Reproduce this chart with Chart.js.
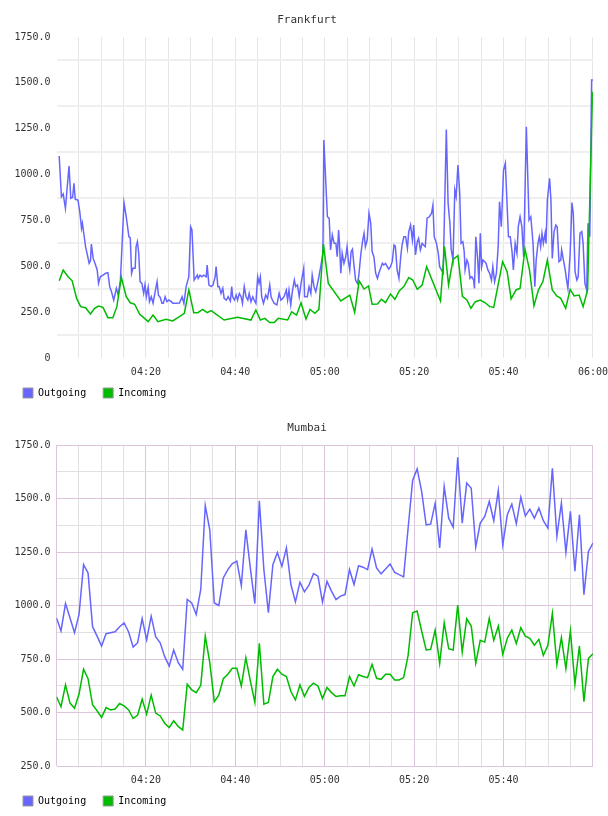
<!DOCTYPE html>
<html>
<head>
<meta charset="utf-8">
<title>Traffic</title>
<script src="https://cdn.jsdelivr.net/npm/chart.js@4.4.1/dist/chart.umd.min.js"></script>
<style>
    html, body { margin: 0; padding: 0; background: #fff; overflow: hidden; }
    canvas { display: block; }
</style>
</head>
<body>
<canvas id="frankfurtChart" width="608" height="408"></canvas>
<canvas id="mumbaiChart" width="608" height="408"></canvas>
<script>
// time axis: minutes after 04:00
const xTickMinutes = [20, 40, 60, 80, 100, 120];
const xTickLabels = ['04:20', '04:40', '05:00', '05:20', '05:40', '06:00'];

// Frankfurt - outgoing (sampled roughly every 20-30s)
const frankfurtOutTimes = [
    0.6, 1.1, 1.5, 2.0, 2.8, 3.2, 3.6, 3.9, 4.2, 4.8, 5.2, 5.6, 5.8, 6.1, 6.5, 6.9, 7.3, 7.6, 7.8, 8.2,
    8.7, 9.1, 9.4, 9.8, 10.4, 11.0, 11.5, 11.9, 12.3, 12.8, 13.4, 13.8, 14.3, 15.1, 15.6, 16.2, 16.5, 16.8, 17.1, 17.6,
    17.8, 18.1, 18.4, 18.7, 19.1, 19.5, 19.8, 20.1, 20.5, 20.8, 21.2, 21.6, 22.0, 22.5, 22.8, 23.2, 23.6, 23.9, 24.3, 24.7,
    25.1, 25.7, 26.0, 26.8, 27.5, 28.1, 28.5, 29.0, 29.6, 30.0, 30.3, 30.8, 31.5, 31.7, 32.1, 32.5, 32.9, 33.5, 33.7, 34.1,
    34.6, 35.0, 35.5, 35.7, 36.1, 36.4, 36.8, 37.2, 37.5, 38.0, 38.4, 38.9, 39.2, 39.4, 39.8, 40.2, 40.5, 40.9, 41.3, 41.6,
    42.0, 42.4, 42.8, 43.1, 43.5, 43.9, 44.2, 44.6, 45.0, 45.3, 45.6, 45.9, 46.3, 46.8, 47.2, 47.7, 48.0, 48.3, 48.7, 49.3,
    49.8, 50.2, 50.6, 50.9, 51.4, 51.7, 52.0, 52.4, 52.8, 53.2, 53.5, 53.9, 54.3, 54.7, 55.3, 55.5, 56.1, 56.5, 56.9, 57.2,
    57.6, 58.0, 58.4, 58.7, 59.1, 59.6, 59.8, 60.6, 61.0, 61.3, 61.7, 62.1, 62.5, 62.8, 63.1, 63.3, 63.6, 63.9, 64.3, 64.7,
    65.0, 65.3, 65.6, 65.9, 66.2, 66.5, 66.9, 67.3, 67.6, 68.1, 68.5, 68.8, 69.1, 69.5, 69.9, 70.3, 70.6, 71.0, 71.4, 71.8,
    72.1, 72.5, 72.9, 73.2, 73.6, 74.0, 74.3, 74.7, 75.1, 75.5, 75.8, 76.2, 76.6, 77.0, 77.3, 77.7, 78.1, 78.5, 78.8, 79.2,
    79.6, 79.9, 80.3, 80.7, 81.0, 81.4, 81.8, 82.1, 82.5, 82.9, 83.4, 83.9, 84.2, 84.5, 85.0, 85.4, 85.7, 86.1, 86.5, 87.2,
    87.6, 88.0, 88.3, 88.7, 89.1, 89.4, 89.8, 90.2, 90.5, 90.9, 91.2, 91.4, 91.8, 92.1, 92.5, 92.9, 93.3, 93.5, 93.8, 94.2,
    94.5, 94.8, 95.1, 95.4, 95.8, 96.1, 96.5, 96.9, 97.3, 97.6, 98.0, 98.4, 98.8, 99.1, 99.5, 100.0, 100.4, 101.1, 101.5, 101.9,
    102.2, 102.6, 103.0, 103.3, 103.7, 104.1, 104.5, 105.1, 105.7, 106.1, 106.6, 107.0, 107.3, 107.7, 108.0, 108.3, 108.6, 108.9, 109.3, 109.5,
    109.8, 110.3, 110.6, 110.9, 111.3, 111.7, 112.0, 112.4, 112.8, 113.0, 113.4, 113.8, 114.1, 114.4, 114.9, 115.3, 115.6, 116.0, 116.4, 116.7,
    117.1, 117.5, 117.8, 118.2, 118.6, 118.9, 119.3, 119.7, 120.0
];
const frankfurtOut = [
    1101, 879, 894, 816, 1047, 870, 875, 952, 865, 861, 798, 707, 734, 680, 607, 562, 516, 530, 621, 543,
    510, 480, 407, 443, 452, 462, 465, 389, 361, 316, 380, 343, 425, 847, 770, 661, 655, 462, 489, 489,
    607, 634, 570, 416, 407, 353, 400, 334, 385, 307, 334, 299, 352, 416, 343, 330, 298, 298, 334, 307,
    316, 307, 298, 298, 300, 334, 298, 389, 443, 716, 698, 425, 452, 434, 452, 443, 452, 443, 507, 398,
    389, 398, 443, 498, 389, 389, 352, 380, 325, 316, 334, 310, 389, 334, 316, 343, 316, 352, 334, 298,
    389, 334, 316, 352, 307, 334, 316, 298, 443, 407, 443, 334, 298, 343, 325, 398, 334, 316, 298, 290,
    353, 316, 325, 334, 370, 316, 370, 290, 370, 425, 389, 398, 334, 407, 489, 334, 334, 389, 352, 452,
    389, 361, 407, 443, 498, 571, 1188, 770, 761, 589, 671, 625, 625, 552, 698, 625, 462, 571, 516, 552,
    607, 525, 480, 580, 593, 516, 425, 407, 443, 571, 643, 680, 607, 643, 789, 734, 580, 552, 462, 434,
    462, 489, 516, 507, 516, 498, 485, 498, 525, 616, 610, 480, 434, 552, 616, 661, 661, 598, 689, 725,
    643, 725, 562, 634, 652, 589, 625, 616, 607, 762, 770, 789, 834, 661, 625, 571, 498, 480, 462, 1245,
    843, 734, 589, 534, 916, 880, 1052, 898, 625, 634, 580, 480, 534, 516, 434, 443, 425, 380, 661, 543,
    407, 680, 498, 534, 525, 516, 480, 461, 425, 498, 416, 461, 607, 852, 716, 1025, 1061, 661, 661, 580,
    480, 625, 570, 716, 770, 716, 552, 1261, 752, 770, 625, 389, 534, 625, 661, 607, 680, 625, 680, 625,
    861, 980, 861, 543, 689, 725, 716, 525, 534, 589, 534, 480, 425, 380, 570, 847, 789, 471, 425, 443,
    680, 689, 625, 407, 371, 734, 661, 1516, 1516
];

// Frankfurt - incoming (about one sample a minute)
const frankfurtInTimes = [
    0.6, 1.5, 2.6, 3.5, 4.5, 5.4, 6.5, 7.6, 8.5, 9.4, 10.4, 11.5, 12.6, 13.5, 14.5, 15.6, 16.5, 17.5, 18.6, 19.5,
    20.5, 21.6, 22.7, 24.5, 26.0, 27.5, 28.6, 29.6, 30.7, 31.6, 32.7, 33.7, 34.6, 37.5, 40.5, 43.5, 44.6, 45.6, 46.6, 47.7,
    48.7, 49.6, 51.7, 52.6, 53.7, 54.7, 55.8, 56.7, 57.8, 58.7, 59.7, 60.8, 63.6, 65.6, 66.7, 67.7, 68.8, 69.8, 70.6, 71.8,
    72.7, 73.6, 74.7, 75.7, 76.7, 77.7, 78.8, 79.7, 80.7, 81.8, 82.8, 85.9, 86.8, 87.7, 88.7, 89.8, 90.8, 91.8, 92.7, 93.7,
    94.8, 95.9, 96.9, 97.8, 99.8, 100.8, 101.7, 102.8, 103.7, 104.8, 105.8, 106.8, 107.8, 108.8, 109.8, 110.9, 111.9, 112.8, 113.9, 114.9,
    115.8, 116.9, 117.8, 118.8, 119.9
];
const frankfurtIn = [
    421, 480, 443, 421, 325, 280, 274, 240, 271, 283, 276, 220, 220, 280, 440, 334, 301, 293, 238, 220,
    198, 234, 198, 211, 202, 225, 244, 371, 247, 247, 265, 247, 258, 207, 222, 207, 262, 207, 216, 193,
    193, 216, 207, 252, 234, 301, 213, 265, 244, 265, 621, 407, 311, 343, 249, 421, 376, 393, 293, 294,
    320, 302, 349, 320, 367, 389, 438, 425, 374, 398, 498, 311, 607, 398, 538, 558, 336, 316, 271, 307,
    316, 301, 280, 276, 525, 471, 322, 371, 380, 593, 480, 285, 371, 416, 534, 371, 338, 325, 271, 374,
    338, 343, 280, 371, 1452
];

// Mumbai - one sample per interval, 04:00 to 06:00
const mumbaiOut = [
    942, 881, 1009, 942, 873, 958, 1191, 1152, 901, 857, 811, 868, 873, 877, 901, 919, 876, 806, 826, 939,
    839, 950, 854, 826, 761, 717, 792, 733, 702, 1028, 1012, 958, 1075, 1467, 1354, 1012, 1000, 1129, 1168, 1196,
    1207, 1093, 1354, 1175, 1009, 1489, 1168, 966, 1191, 1248, 1183, 1269, 1098, 1017, 1109, 1064, 1095, 1149, 1137, 1016,
    1113, 1067, 1028, 1044, 1051, 1168, 1098, 1186, 1179, 1168, 1264, 1176, 1148, 1171, 1194, 1155, 1144, 1134, 1362, 1584,
    1638, 1533, 1377, 1380, 1478, 1269, 1556, 1408, 1366, 1693, 1385, 1572, 1548, 1273, 1385, 1416, 1486, 1396, 1537, 1284,
    1424, 1474, 1382, 1506, 1419, 1450, 1408, 1455, 1396, 1362, 1641, 1323, 1478, 1248, 1440, 1160, 1424, 1051, 1253, 1292
];
const mumbaiIn = [
    573, 527, 629, 544, 520, 586, 702, 658, 536, 508, 477, 523, 512, 516, 542, 531, 512, 472, 488, 562,
    492, 581, 497, 484, 450, 430, 461, 435, 418, 632, 606, 593, 627, 857, 733, 551, 581, 658, 679, 707,
    707, 624, 756, 648, 547, 823, 539, 547, 668, 702, 679, 668, 598, 559, 629, 575, 617, 637, 624, 565,
    617, 593, 575, 578, 578, 668, 624, 676, 668, 663, 725, 660, 655, 679, 679, 652, 652, 663, 767, 966,
    974, 881, 792, 795, 885, 730, 919, 798, 792, 1002, 783, 938, 904, 730, 837, 829, 940, 837, 904, 772,
    847, 885, 823, 896, 857, 847, 815, 842, 767, 814, 963, 725, 850, 705, 881, 632, 811, 551, 753, 775
];
// samples are evenly spread over the two hours
const mumbaiTimes = mumbaiOut.map((_, i) => i * 120 / 119);

const outColor = '#6666ff';
const inColor = '#00bb00';
const mono = 'DejaVu Sans Mono';
const clear = 'rgba(0,0,0,0)';

Chart.defaults.font.family = mono;
Chart.defaults.font.size = 10;

// the time labels hang a little below the x axis box, give them room so they are not clipped
const labelRoom = {
    id: 'labelRoom',
    afterLayout(chart) {
        chart.scales.x.bottom += 12;
    }
};

function points(times, values) {
    return times.map((t, i) => ({ x: t, y: values[i] }));
}

function xLabel(v) {
    const i = xTickMinutes.indexOf(v);
    return i < 0 ? '' : xTickLabels[i];
}

function yLabel(v) {
    if (v % 250 !== 0) return '';
    return v === 0 ? '0' : v.toFixed(1);
}

// ðŸ“Š one traffic chart
function buildChart(id, title, outData, inData, yMin, grid, showLast) {
    const ctx = document.getElementById(id).getContext('2d');
    return new Chart(ctx, {
        type: 'line',
        plugins: [labelRoom],
        data: {
            datasets: [
                {
                    label: 'Outgoing',
                    data: outData,
                    borderColor: outColor,
                    backgroundColor: outColor,
                    borderWidth: 1.5,
                    pointRadius: 0,
                    tension: 0,
                    fill: false,
                    order: 1
                },
                {
                    label: 'Incoming',
                    data: inData,
                    borderColor: inColor,
                    backgroundColor: inColor,
                    borderWidth: 1.5,
                    pointRadius: 0,
                    tension: 0,
                    fill: false,
                    order: 0
                }
            ]
        },
        options: {
            responsive: false,
            animation: false,
            layout: { padding: { left: 6, right: 0, top: 0, bottom: 0 } },
            plugins: {
                title: {
                    display: true,
                    text: title,
                    color: '#333',
                    font: { family: mono, size: 11, weight: 'normal' },
                    padding: { top: 13.4, bottom: 10.4 }
                },
                legend: {
                    position: 'bottom',
                    align: 'start',
                    labels: {
                        boxWidth: 10,
                        boxHeight: 10,
                        padding: 17,
                        color: '#222',
                        font: { family: mono, size: 10 },
                        generateLabels: (chart) => chart.data.datasets.map((ds, i) => ({
                            text: ds.label,
                            fillStyle: ds.borderColor,
                            strokeStyle: '#999',
                            lineWidth: 1,
                            hidden: false,
                            datasetIndex: i
                        }))
                    }
                },
                tooltip: { enabled: false }
            },
            scales: {
                x: {
                    type: 'linear',
                    min: 0,
                    max: 120,
                    afterFit: (s) => { s.height = 13; },
                    ticks: {
                        stepSize: 5,
                        autoSkip: false,
                        maxRotation: 0,
                        minRotation: 0,
                        padding: 0,
                        color: (c) => (!showLast && c.tick && c.tick.value === 120) ? clear : '#333',
                        font: { family: mono, size: 10, lineHeight: 2.8 },
                        callback: (v) => xLabel(v)
                    },
                    grid: { drawTicks: false, color: grid.x, lineWidth: grid.xw },
                    border: { display: false }
                },
                y: {
                    min: yMin,
                    max: 1750,
                    afterFit: (s) => { s.width = 50.5; },
                    ticks: {
                        stepSize: 125,
                        autoSkip: false,
                        padding: 6,
                        color: '#333',
                        font: { family: mono, size: 10 },
                        callback: (v) => yLabel(v)
                    },
                    grid: { drawTicks: false, color: grid.y, lineWidth: grid.yw },
                    border: { display: false }
                }
            }
        }
    });
}

// Frankfurt: only the in-between grid lines
buildChart('frankfurtChart', 'Frankfurt',
    points(frankfurtOutTimes, frankfurtOut),
    points(frankfurtInTimes, frankfurtIn),
    0,
    {
        x: (c) => (c.tick && c.tick.value === 0) ? clear : '#e6e6e6',
        xw: 1,
        y: (c) => (c.tick && c.tick.value % 250 === 0) ? clear : '#efefef',
        yw: 2
    },
    true);

// Mumbai: purple major lines, grey minor lines
const major = '#dcc4dc';
const minor = '#e0e0e0';
buildChart('mumbaiChart', 'Mumbai',
    points(mumbaiTimes, mumbaiOut),
    points(mumbaiTimes, mumbaiIn),
    250,
    {
        x: (c) => (c.tick && c.tick.value % 20 === 0) ? major : minor,
        xw: 1,
        y: (c) => (c.tick && c.tick.value % 250 === 0) ? major : minor,
        yw: 1
    },
    false);
</script>
</body>
</html>
